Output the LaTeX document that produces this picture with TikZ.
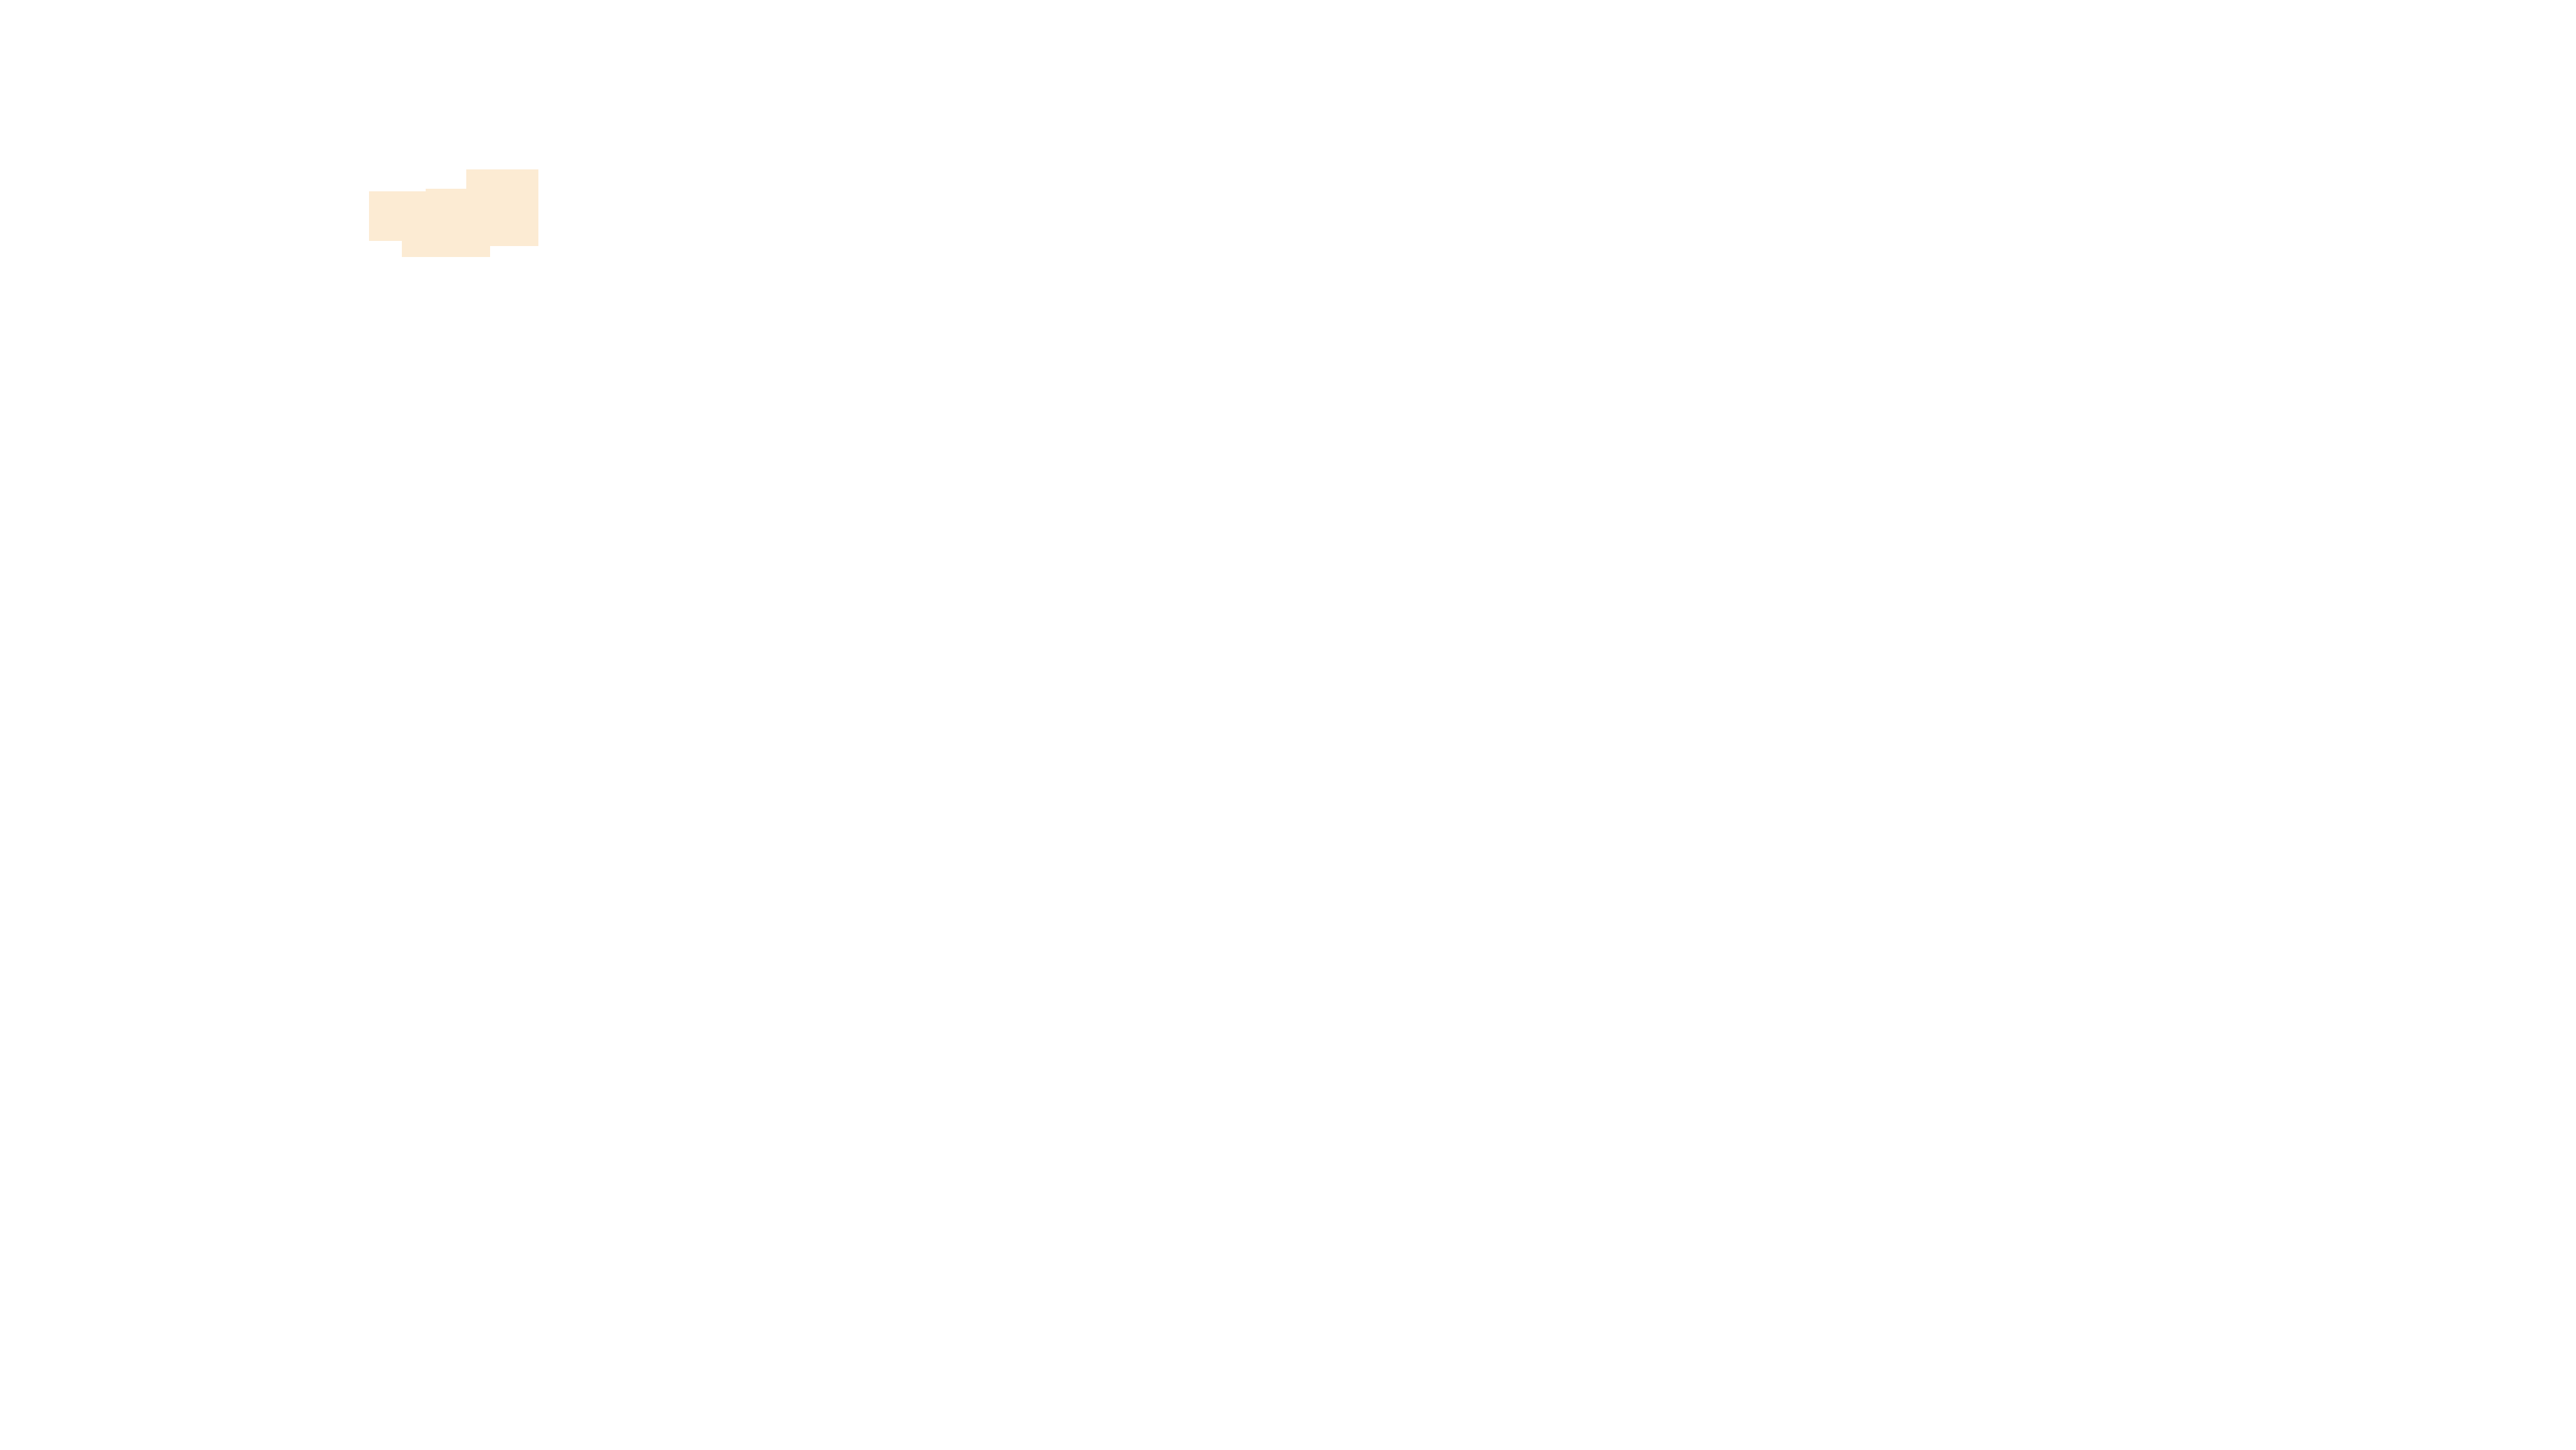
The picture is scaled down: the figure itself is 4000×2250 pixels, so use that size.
\documentclass[tikz,border=0pt]{standalone}
\usetikzlibrary{positioning}
\definecolor{paleorange}{RGB}{252,235,211}
\tikzset{patch/.style={fill=paleorange,draw=none,inner sep=0pt,outer sep=0pt,anchor=north west}}
\begin{document}
\begin{tikzpicture}[x=0.01cm,y=-0.01cm]
            \useasboundingbox (0,0) rectangle (4000,2250);
            % overlapping pale blocks
            \node[patch,minimum width=1.27cm,minimum height=0.77cm] (pa) at (573,297){};
            \node[patch,minimum width=1.37cm,minimum height=0.25cm] (pb) at (624,374){};
            \node[patch,minimum width=1.00cm,minimum height=1.06cm] (pc) at (661,293){};
            \node[patch,minimum width=1.12cm,minimum height=1.19cm] (pd) at (724,263){};
          \end{tikzpicture}
\end{document}
